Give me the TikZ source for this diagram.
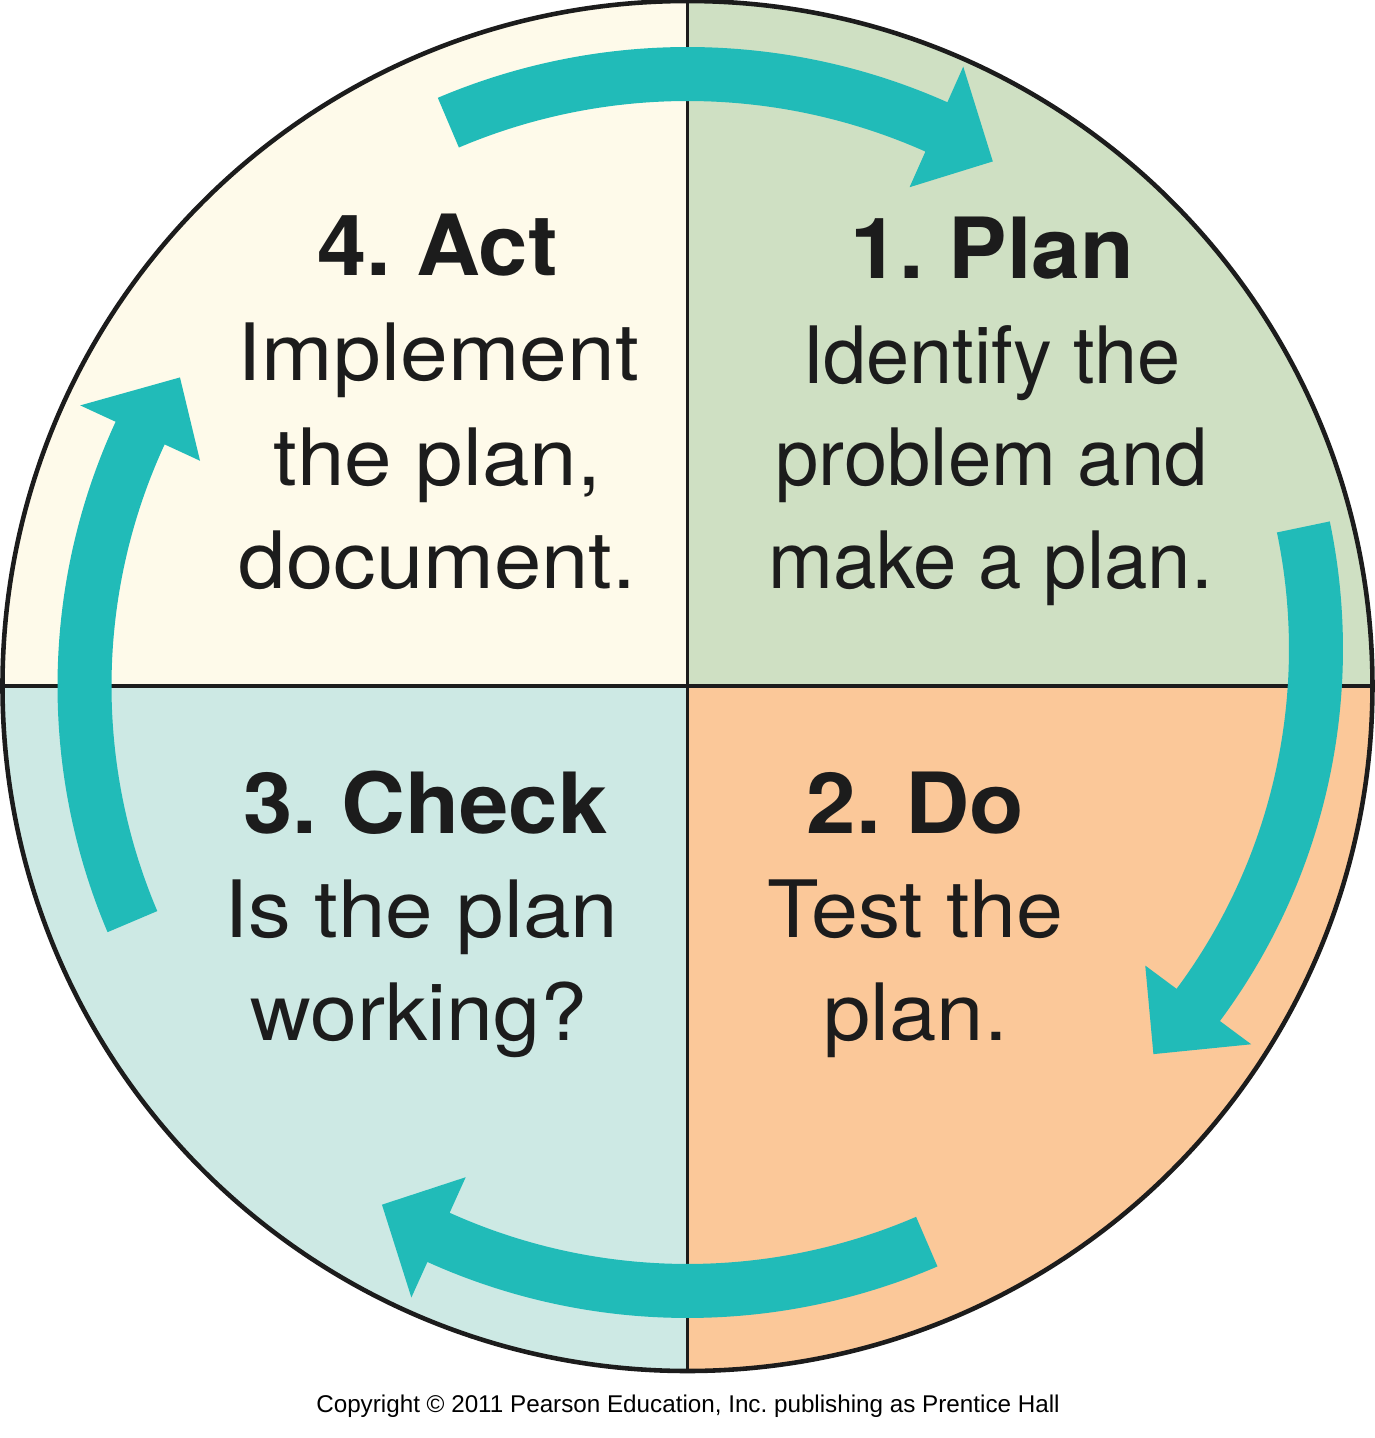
\documentclass[tikz,border=0pt]{standalone}
\usepackage{fontspec}
\setmainfont{TeX Gyre Heros}
\newfontfamily\arialfont{Liberation Sans}
\definecolor{qcream}{RGB}{254,250,234}
\definecolor{qgreen}{RGB}{207,224,195}
\definecolor{qteal}{RGB}{205,233,228}
\definecolor{qpeach}{RGB}{251,200,153}
\definecolor{arrowteal}{RGB}{33,187,184}
\definecolor{inkblack}{RGB}{28,28,28}
\newcommand\wide[2]{\scalebox{#1}[1]{#2}}
\tikzset{
  headtext/.style={anchor=base, inner sep=0pt, text=inkblack, font=\fontsize{24}{28}\selectfont\bfseries},
  bodytext/.style={anchor=base, inner sep=0pt, text=inkblack, font=\fontsize{22.5}{28}\selectfont},
  cyclearrow/.style={fill=arrowteal, draw=none},
  divider/.style={draw=inkblack, line width=1.1pt},
}
\begin{document}
\frenchspacing
\begin{tikzpicture}[x=0.01cm, y=0.01cm]
\useasboundingbox (-687.5,-752) rectangle (687.5,686);
\fill[white] (-687.5,-752) rectangle (687.5,686);
% quadrants
\fill[qgreen] (0,0) -- (0:685) arc[start angle=0, end angle=90, radius=685] -- cycle;
\fill[qcream] (0,0) -- (90:685) arc[start angle=90, end angle=180, radius=685] -- cycle;
\fill[qteal] (0,0) -- (180:685) arc[start angle=180, end angle=270, radius=685] -- cycle;
\fill[qpeach] (0,0) -- (270:685) arc[start angle=270, end angle=360, radius=685] -- cycle;
\coordinate (top) at (90:685);
\coordinate (bottom) at (270:685);
\coordinate (left) at (180:685);
\coordinate (right) at (0:685);
\draw[divider] (top) -- (bottom);
\draw[divider] (left) -- (right);
\draw[divider, line width=1.3pt] (0,0) circle[radius=685];
% arrows
\fill[cyclearrow] (113:639) arc[start angle=113, end angle=66, radius=639] -- (66:678) -- (59.8:607) -- (66:546) -- (66:585) arc[start angle=66, end angle=113, radius=585] -- cycle;
\begin{scope}[shift={(31.5,37)}]
\fill[cyclearrow] (11.8:624) arc[start angle=11.8, end angle=-36.6, radius=624] -- (-36.6:663) -- (-43:594) -- (-36.6:531) -- (-36.6:570) arc[start angle=-36.6, end angle=11.8, radius=570] -- cycle;
\end{scope}
\fill[cyclearrow] (-66.7:632) arc[start angle=-66.7, end angle=-114.3, radius=632] -- (-114.3:671) -- (-120.5:602) -- (-114.3:539) -- (-114.3:578) arc[start angle=-114.3, end angle=-66.7, radius=578] -- cycle;
\fill[cyclearrow] (203:630) arc[start angle=203, end angle=155.2, radius=630] -- (155.2:669) -- (148.7:594) -- (155.2:537) -- (155.2:576) arc[start angle=155.2, end angle=203, radius=576] -- cycle;
% texts
\node[headtext] (acth) at (-250,411) {\wide{1.05}{4. Act}};
\node[bodytext] (act1) at (-249,306) {\wide{1.085}{Implement}};
\node[bodytext] (act2) at (-250,201) {\wide{1.08}{the plan,}};
\node[bodytext] (act3) at (-250,98) {\wide{1.075}{document.}};
\node[headtext] (planh) at (305,408) {\wide{1.04}{1. Plan}};
\node[bodytext] (plan1) at (304,303) {\wide{0.98}{Identify the}};
\node[bodytext] (plan2) at (304,201) {\wide{0.985}{problem and}};
\node[bodytext] (plan3) at (303,98) {\wide{0.985}{make a plan.}};
\node[headtext] (checkh) at (-262,-147) {\wide{1.05}{3. Check}};
\node[bodytext] (check1) at (-266,-251) {\wide{1.08}{Is the plan}};
\node[bodytext] (check2) at (-269,-354) {\wide{1.065}{working?}};
\node[headtext] (doh) at (228,-147) {\wide{1.055}{2. Do}};
\node[bodytext] (do1) at (228,-251) {\wide{1.066}{Test the}};
\node[bodytext] (do2) at (228,-354) {\wide{1.075}{plan.}};
\node[anchor=base, inner sep=0pt, font=\arialfont\fontsize{6.89}{8}\selectfont] (copy) at (0.5,-726) {Copyright © 2011 Pearson Education, Inc. publishing as Prentice Hall};
\end{tikzpicture}
\end{document}
